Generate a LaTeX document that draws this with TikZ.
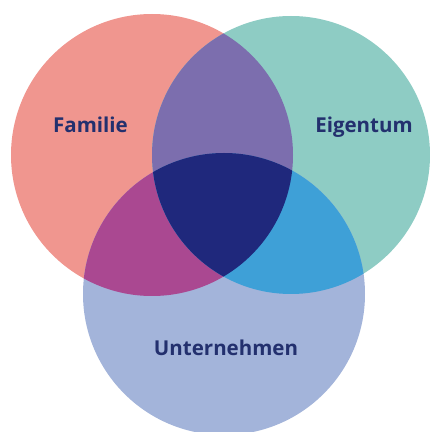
\documentclass[tikz,border=0pt]{standalone}
\usepackage{fontspec}
\setmainfont{Open Sans}
\definecolor{famc}{RGB}{240,150,143}
\definecolor{eigc}{RGB}{142,204,196}
\definecolor{untc}{RGB}{163,180,218}
\definecolor{fec}{RGB}{124,110,174}
\definecolor{fuc}{RGB}{170,72,145}
\definecolor{euc}{RGB}{62,160,215}
\definecolor{cenc}{RGB}{31,40,124}
\definecolor{txtc}{RGB}{35,48,110}
\begin{document}
\begin{tikzpicture}[x=1pt,y=1pt,
  lbl/.style={font=\bfseries\fontsize{20.5}{24}\selectfont, text=txtc, inner sep=0pt, anchor=base}]
\useasboundingbox (0,0) rectangle (430,432);
\coordinate (cF) at (152,277);
\coordinate (cE) at (291,277);
\coordinate (cU) at (224,138);
\fill[famc] (cF) circle (141);
\fill[eigc] (cE) circle (139);
\fill[untc] (cU) circle (141);
\begin{scope}
  \clip (cF) circle (141);
  \fill[fec] (cE) circle (139);
  \fill[fuc] (cU) circle (141);
\end{scope}
\begin{scope}
  \clip (cE) circle (139);
  \fill[euc] (cU) circle (141);
  \clip (cU) circle (141);
  \fill[cenc] (cF) circle (141);
\end{scope}
\node[lbl] (familie) at (90.5,299) {Familie};
\node[lbl] (eigentum) at (364,299) {Eigentum};
\node[lbl] (unternehmen) at (226,76) {Unternehmen};
\end{tikzpicture}
\end{document}
